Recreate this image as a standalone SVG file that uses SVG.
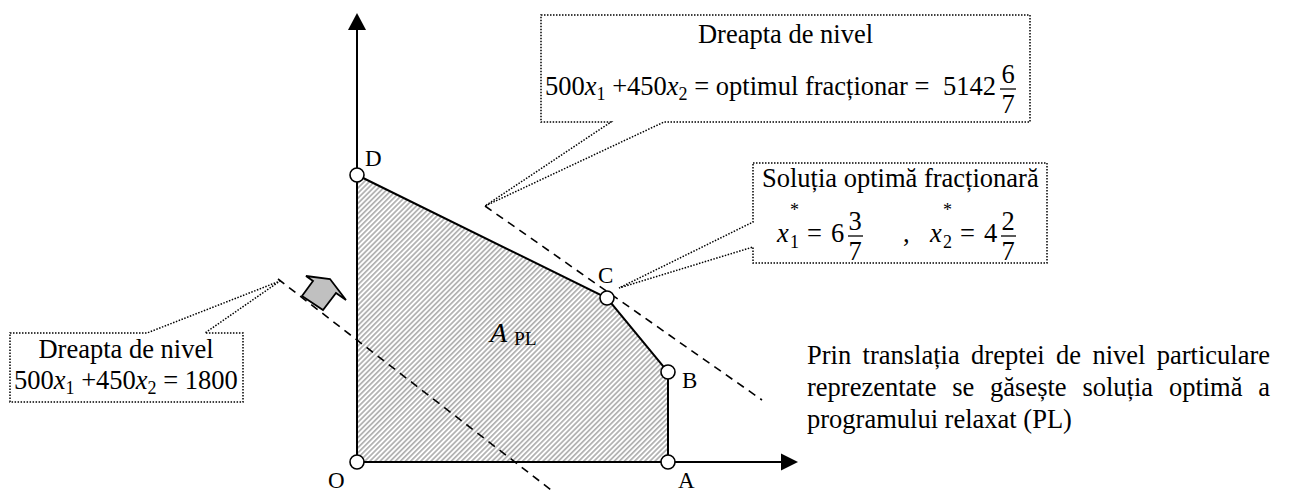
<svg xmlns="http://www.w3.org/2000/svg" width="1300" height="493" viewBox="0 0 1300 493">
<defs>
<pattern id="hatch" patternUnits="userSpaceOnUse" width="3.6" height="10" patternTransform="rotate(45)">
<rect width="3.6" height="10" fill="#ffffff"/>
<rect width="1.7" height="10" fill="#b0b0b0"/>
</pattern>
</defs>
<style>
text{font-family:"Liberation Serif","Times New Roman",serif;fill:#000}
.t{font-size:26.5px}
.lb{font-size:23px}
.i{font-style:italic}
.s{font-size:18px}
.edge{fill:none;stroke:#000;stroke-width:2}
.axis{fill:none;stroke:#000;stroke-width:2}
.dash{fill:none;stroke:#000;stroke-width:1.6;stroke-dasharray:8 6}
.dot{fill:#fff;stroke:#000;stroke-width:1.5;stroke-dasharray:1.5 1.5}
.pt{fill:#fff;stroke:#000;stroke-width:1.6}
.bar{stroke:#000;stroke-width:1.3}
</style>

<g id="region">
<polygon points="357,462 668,462 668,372 607,298 357,175" fill="url(#hatch)" stroke="none"/>
</g>

<g id="connectors">
<line class="axis" x1="357" y1="462" x2="357" y2="30"/>
<path d="M357,13 L366,30 L348,30 Z" fill="#000"/>
<line class="axis" x1="357" y1="462" x2="782" y2="462"/>
<path d="M798,462 L781,453.5 L781,470.5 Z" fill="#000"/>
<polyline class="edge" points="668,462 668,372 607,298 357,175"/>
<line class="dash" x1="278" y1="279" x2="555" y2="493"/>
<line class="dash" x1="485" y1="206" x2="762" y2="400"/>
</g>

<g id="arrow">
<polygon points="302,296 323,310 336,293 346,300 330,279 306,276 313,281" fill="#c0c0c0" stroke="#000" stroke-width="1.8"/>
</g>

<g id="O"><circle class="pt" cx="357" cy="462" r="7"/><text class="lb" x="328" y="488">O</text></g>
<g id="A"><circle class="pt" cx="668" cy="462" r="7"/><text class="lb" x="678" y="488">A</text></g>
<g id="B"><circle class="pt" cx="668" cy="372" r="7"/><text class="lb" x="682" y="388">B</text></g>
<g id="C"><circle class="pt" cx="607" cy="298" r="7"/><text class="lb" x="598" y="283">C</text></g>
<g id="D"><circle class="pt" cx="357" cy="175" r="7"/><text class="lb" x="365" y="166">D</text></g>

<g id="apl">
<text class="i" x="490" y="342" style="font-size:28px">A</text>
<text x="514" y="345" style="font-size:19.5px">PL</text>
</g>

<g id="callout-top">
<path class="dot" d="M541,15 H1030 V122 H664 L485,206 L611,122 H541 Z"/>
<text class="t" x="785.5" y="43" text-anchor="middle">Dreapta de nivel</text>
<text class="t" x="545" y="95">500<tspan class="i">x</tspan><tspan class="s" dy="5">1</tspan><tspan dy="-5"> +450</tspan><tspan class="i">x</tspan><tspan class="s" dy="5">2</tspan><tspan dy="-5"> = optimul fracționar =</tspan></text>
<text class="t" x="996" y="95" text-anchor="end">5142</text>
<text class="t" x="1008" y="83" text-anchor="middle">6</text>
<line class="bar" x1="1000" y1="89" x2="1016" y2="89"/>
<text class="t" x="1008" y="113" text-anchor="middle">7</text>
</g>

<g id="callout-sol">
<path class="dot" d="M753,163 H1047 V263 H753 V247 L619,288 L753,222 Z"/>
<text class="t" x="762" y="187">Soluția optimă fracționară</text>
<text class="t i" x="777" y="242">x</text>
<text class="s" x="790" y="248">1</text>
<text class="s" x="790" y="216">*</text>
<text class="t" x="807" y="242">=</text>
<text class="t" x="831" y="242">6</text>
<text class="t" x="855" y="230" text-anchor="middle">3</text>
<line class="bar" x1="848" y1="236" x2="863" y2="236"/>
<text class="t" x="855" y="260" text-anchor="middle">7</text>
<text class="t" x="903" y="242">,</text>
<text class="t i" x="930" y="242">x</text>
<text class="s" x="943" y="248">2</text>
<text class="s" x="943" y="216">*</text>
<text class="t" x="960" y="242">=</text>
<text class="t" x="984" y="242">4</text>
<text class="t" x="1008" y="230" text-anchor="middle">2</text>
<line class="bar" x1="1001" y1="236" x2="1016" y2="236"/>
<text class="t" x="1008" y="260" text-anchor="middle">7</text>
</g>

<g id="callout-left">
<path class="dot" d="M10,333 H147 L280,281 L205,333 H243 V402 H10 Z"/>
<text class="t" x="126" y="358" text-anchor="middle">Dreapta de nivel</text>
<text class="t" x="14" y="389">500<tspan class="i">x</tspan><tspan class="s" dy="5">1</tspan><tspan dy="-5"> +450</tspan><tspan class="i">x</tspan><tspan class="s" dy="5">2</tspan><tspan dy="-5"> = 1800</tspan></text>
</g>

<g id="note">
<text class="t" y="364"><tspan x="807">Prin</tspan><tspan x="862.6">translația</tspan><tspan x="971.1">dreptei</tspan><tspan x="1056">de</tspan><tspan x="1092.4">nivel</tspan></text>
<text class="t" x="1270" y="364" text-anchor="end">particulare</text>
<text class="t" y="396"><tspan x="807">reprezentate</tspan><tspan x="952.3">se</tspan><tspan x="990.1">găsește</tspan><tspan x="1082.4">soluția</tspan><tspan x="1168.9">optimă</tspan></text>
<text class="t" x="1270" y="396" text-anchor="end">a</text>
<text class="t" x="807" y="428">programului relaxat (PL)</text>
</g>
</svg>
